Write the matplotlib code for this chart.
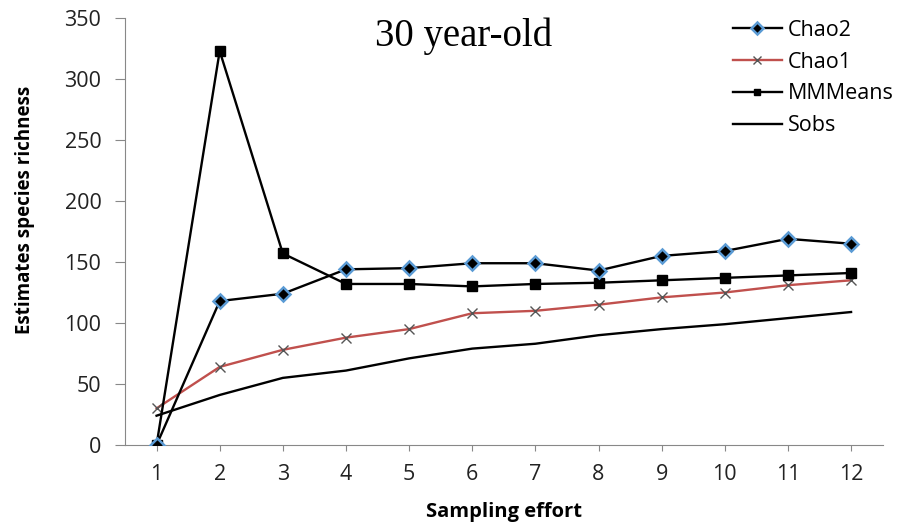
import numpy as np
import matplotlib.pyplot as plt

# --- データ ---
effort = [1, 2, 3, 4, 5, 6, 7, 8, 9, 10, 11, 12]
chao2 = [0, 118, 124, 144, 145, 149, 149, 143, 155, 159, 169, 165]
chao1 = [30, 64, 78, 88, 95, 108, 110, 115, 121, 125, 131, 135]
mmmeans = [0, 323, 157, 132, 132, 130, 132, 133, 135, 137, 139, 141]
sobs = [24, 41, 55, 61, 71, 79, 83, 90, 95, 99, 104, 109]
y_ticks = [0, 50, 100, 150, 200, 250, 300, 350]

plt.rcParams['font.family'] = ['Open Sans', 'DejaVu Sans']

fig = plt.figure(figsize=(9.09, 5.31), dpi=100)
ax = fig.add_axes([0.1375, 0.162, 0.8335, 0.804])

ax.plot(effort, sobs, color='black', lw=1.7, label='Sobs', zorder=2)
ax.plot(effort, chao1, color='#C0504D', lw=1.7, marker='x', ms=7,
        mec='#555555', mew=1, label='Chao1', zorder=3)
ax.plot(effort, mmmeans, color='black', lw=1.7, marker='s', ms=6.5,
        label='MMMeans', zorder=4)
ax.plot(effort, chao2, color='black', lw=1.7, marker='D', ms=7.5,
        mfc='black', mec='#5B9BD5', mew=1.8, label='Chao2', zorder=5)

ax.set_xlim(0.5, 12.5)
ax.set_ylim(0, 350)
ax.set_xticks(effort)
ax.set_yticks(y_ticks)

for s in ['top', 'right']:
    ax.spines[s].set_visible(False)
for s in ['left', 'bottom']:
    ax.spines[s].set_color('#888888')
ax.tick_params(colors='#888888', labelcolor='#222222', labelsize=15.5)
ax.tick_params(axis='y', length=7, pad=10)
ax.tick_params(axis='x', length=4.5, pad=9)

ax.set_xlabel('Sampling effort', fontsize=14.5, fontweight='bold')
ax.set_ylabel('Estimates species richness', fontsize=13.5, fontweight='bold')
ax.xaxis.set_label_coords(0.5, -0.157)
ax.xaxis.label.set_va('center')
ax.yaxis.set_label_coords(-0.132, 0.55)
ax.yaxis.label.set_va('center')

ax.text(0.447, 0.934, '30 year-old', transform=ax.transAxes, ha='center',
        va='baseline', fontsize=28, family='Liberation Serif')

h, l = ax.get_legend_handles_labels()
order = [3, 1, 2, 0]
ax.legend([h[i] for i in order], [l[i] for i in order], loc='upper left',
          bbox_to_anchor=(0.802, 0.996), frameon=False, fontsize=15.5,
          handlelength=2.3, labelspacing=0.5, handletextpad=0.28,
          borderpad=0, borderaxespad=0, markerscale=0.75)

fig.savefig('out.png', dpi=100)
